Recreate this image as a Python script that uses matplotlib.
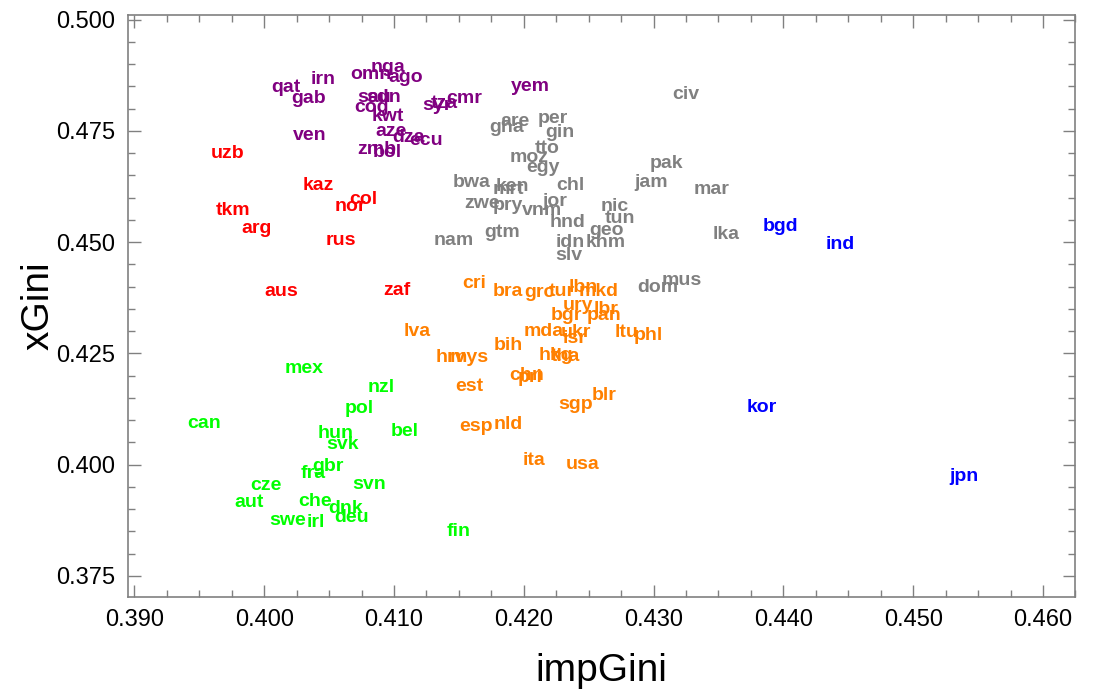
import matplotlib
matplotlib.use("Agg")
import matplotlib.pyplot as plt
from matplotlib.ticker import MultipleLocator, FormatStrFormatter

plt.rcParams['font.family'] = ['Liberation Sans', 'DejaVu Sans']

# --- data: country codes with (impGini, xGini), grouped by cluster colour ---
purple_names = ["qat", "irn", "gab", "omn", "nga", "ago", "sau", "sdn", "cog", "kwt",
                "aze", "dza", "ecu", "zmb", "bol", "ven", "syr", "tza", "cmr", "yem"]
purple_x = [0.4017, 0.4045, 0.4034, 0.4082, 0.4095, 0.4109, 0.4085, 0.4092, 0.4083, 0.4095,
            0.4098, 0.4111, 0.4125, 0.4087, 0.4095, 0.4035, 0.4133, 0.4139, 0.4154, 0.4205]
purple_y = [0.4848, 0.4866, 0.4823, 0.4877, 0.4892, 0.4870, 0.4825, 0.4825, 0.4803, 0.4783,
            0.4749, 0.4736, 0.4729, 0.4709, 0.4702, 0.4740, 0.4807, 0.4812, 0.4823, 0.4850]

grey_names = ["civ", "gha", "are", "per", "gin", "tto", "moz", "egy", "pak", "jam",
              "mar", "bwa", "ken", "mrt", "chl", "zwe", "pry", "vnm", "jor", "nic",
              "tun", "hnd", "geo", "khm", "idn", "slv", "gtm", "nam", "lka", "dom", "mus"]
grey_x = [0.4325, 0.4187, 0.4193, 0.4222, 0.4228, 0.4218, 0.4204, 0.4215, 0.4310, 0.4298,
          0.4345, 0.4160, 0.4191, 0.4188, 0.4236, 0.4168, 0.4188, 0.4214, 0.4224, 0.4270,
          0.4274, 0.4234, 0.4264, 0.4263, 0.4236, 0.4235, 0.4183, 0.4146, 0.4356, 0.4303, 0.4322]
grey_y = [0.4832, 0.4758, 0.4772, 0.4778, 0.4747, 0.4711, 0.4691, 0.4668, 0.4677, 0.4633,
          0.4619, 0.4633, 0.4624, 0.4619, 0.4628, 0.4586, 0.4583, 0.4572, 0.4592, 0.4581,
          0.4554, 0.4543, 0.4525, 0.4498, 0.4498, 0.4469, 0.4521, 0.4503, 0.4518, 0.4397, 0.4413]

blue_names = ["bgd", "ind", "kor", "jpn"]
blue_x = [0.4398, 0.4444, 0.4383, 0.4539]
blue_y = [0.4534, 0.4494, 0.4129, 0.3974]

red_names = ["uzb", "kaz", "tkm", "arg", "nor", "col", "rus", "aus", "zaf"]
red_x = [0.3972, 0.4042, 0.3976, 0.3994, 0.4066, 0.4076, 0.4059, 0.4013, 0.4102]
red_y = [0.4698, 0.4628, 0.4572, 0.4530, 0.4579, 0.4595, 0.4503, 0.4388, 0.4391]

orange_names = ["cri", "bra", "grc", "tur", "lbn", "mkd", "ury", "lbr", "bgr", "pan",
                "mda", "ukr", "isr", "ltu", "phl", "lva", "hrv", "mys", "bih", "hkg",
                "tha", "chn", "pri", "est", "sgp", "blr", "esp", "nld", "ita", "usa"]
orange_x = [0.4162, 0.4188, 0.4212, 0.4229, 0.4246, 0.4258, 0.4242, 0.4263, 0.4233, 0.4262,
            0.4215, 0.4240, 0.4239, 0.4279, 0.4296, 0.4118, 0.4144, 0.4158, 0.4188, 0.4225,
            0.4232, 0.4202, 0.4205, 0.4158, 0.4240, 0.4262, 0.4163, 0.4188, 0.4208, 0.4245]
orange_y = [0.4406, 0.4388, 0.4386, 0.4388, 0.4397, 0.4388, 0.4357, 0.4348, 0.4335, 0.4335,
            0.4299, 0.4297, 0.4283, 0.4297, 0.4290, 0.4299, 0.4241, 0.4241, 0.4267, 0.4245,
            0.4243, 0.4200, 0.4196, 0.4176, 0.4135, 0.4155, 0.4086, 0.4091, 0.4010, 0.3999]

green_names = ["mex", "nzl", "pol", "can", "hun", "svk", "bel", "gbr", "fra", "cze",
               "svn", "aut", "che", "dnk", "swe", "irl", "deu", "fin"]
green_x = [0.4031, 0.4090, 0.4073, 0.3954, 0.4055, 0.4060, 0.4108, 0.4049, 0.4038, 0.4001,
           0.4081, 0.3988, 0.4039, 0.4063, 0.4018, 0.4040, 0.4067, 0.4150]
green_y = [0.4216, 0.4173, 0.4126, 0.4093, 0.4070, 0.4046, 0.4075, 0.3996, 0.3979, 0.3952,
           0.3954, 0.3914, 0.3918, 0.3902, 0.3875, 0.3869, 0.3880, 0.3849]

groups = [
    (purple_names, purple_x, purple_y, "#800080"),
    (grey_names, grey_x, grey_y, "#808080"),
    (blue_names, blue_x, blue_y, "#0000ff"),
    (red_names, red_x, red_y, "#ff0000"),
    (orange_names, orange_x, orange_y, "#ff8000"),
    (green_names, green_x, green_y, "#00ff00"),
]

fig = plt.figure(figsize=(11.03, 6.89), dpi=100)
ax = fig.add_axes([0.116, 0.134, 0.859, 0.844])

for names, xs, ys, col in groups:
    for name, x, y in zip(names, xs, ys):
        ax.text(x, y, name, color=col, fontsize=14, fontweight='bold',
                ha='center', va='center')

ax.set_xlim(0.3895, 0.4625)
ax.set_ylim(0.3703, 0.5010)

ax.xaxis.set_major_locator(MultipleLocator(0.01))
ax.xaxis.set_minor_locator(MultipleLocator(0.0025))
ax.yaxis.set_major_locator(MultipleLocator(0.025))
ax.yaxis.set_minor_locator(MultipleLocator(0.005))
ax.xaxis.set_major_formatter(FormatStrFormatter('%.3f'))
ax.yaxis.set_major_formatter(FormatStrFormatter('%.3f'))

ax.tick_params(which='both', direction='in', top=True, right=True,
               color='#808080', labelsize=17, pad=9)
ax.tick_params(which='major', length=9, width=1)
ax.tick_params(which='minor', length=5, width=1)
for s in ax.spines.values():
    s.set_color('#808080')
    s.set_linewidth(1.2)

ax.set_xlabel("impGini", fontsize=28, labelpad=16)
ax.set_ylabel("xGini", fontsize=28, labelpad=0)

fig.savefig("out.png", dpi=100)
